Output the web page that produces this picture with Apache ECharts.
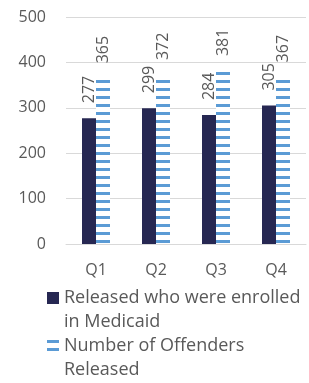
<!DOCTYPE html>
<html lang="en">
<head>
    <meta charset="UTF-8">
    <title>Medicaid enrollment</title>
    <style>
        html, body { margin: 0; padding: 0; background: #fff; }
    </style>
</head>
<body>
<div id="main" style="width: 309px;height:383px;"></div>
<script src="https://cdn.jsdelivr.net/npm/echarts@6/dist/echarts.min.js"></script>
<script>
    var quarters = ['Q1', 'Q2', 'Q3', 'Q4'];
    var enrolled = [277, 299, 284, 305];
    var released = [365, 372, 381, 367];
    var seriesNames = ['Released who were enrolled in Medicaid', 'Number of Offenders Released'];
    var legendLines = {
        'Released who were enrolled in Medicaid': ['Released who were enrolled', 'in Medicaid'],
        'Number of Offenders Released': ['Number of Offenders', 'Released']
    };

    // horizontal stripe fill for the second series
    var stripe = document.createElement('canvas');
    stripe.width = 8;
    stripe.height = 8;
    var ctx = stripe.getContext('2d');
    ctx.fillStyle = '#ffffff';
    ctx.fillRect(0, 0, 8, 8);
    ctx.fillStyle = '#5b9bd5';
    ctx.fillRect(0, 0, 8, 3);

    var textColor = '#595959';
    var font = 'Open Sans';

    // one legend per series; leading empty line puts the icon next to the first text line
    function makeLegend(name, top) {
        return {
            orient: 'vertical',
            left: 47,
            top: top,
            padding: 0,
            itemWidth: 12,
            itemHeight: 12,
            icon: 'rect',
            data: [name],
            formatter: function (n) { return '\n' + legendLines[n].join('\n'); },
            textStyle: { color: textColor, fontSize: 18, fontFamily: font, lineHeight: 24 }
        };
    }

    var myChart = echarts.init(document.getElementById('main'));
    var option = {
        animation: false,
        grid: { left: 66, right: 3, top: 17, bottom: 139 },
        xAxis: {
            type: 'category',
            data: quarters,
            axisTick: { show: false },
            axisLine: { lineStyle: { color: '#d9d9d9' } },
            axisLabel: { color: textColor, fontSize: 16, fontFamily: font, margin: 18 }
        },
        yAxis: {
            type: 'value',
            min: 0,
            max: 500,
            interval: 100,
            axisLabel: { color: textColor, fontSize: 16, fontFamily: font, margin: 20 },
            splitLine: { lineStyle: { color: '#d9d9d9' } }
        },
        legend: [makeLegend(seriesNames[0], 262), makeLegend(seriesNames[1], 310)],
        series: [
            {
                name: seriesNames[0],
                type: 'bar',
                data: enrolled,
                barWidth: 14,
                barGap: '0%',
                itemStyle: { color: '#262752' },
                label: {
                    show: true, position: 'top', rotate: 90, distance: 15,
                    align: 'left', verticalAlign: 'middle',
                    color: textColor, fontSize: 16, fontFamily: font
                }
            },
            {
                name: seriesNames[1],
                type: 'bar',
                data: released,
                barWidth: 14,
                itemStyle: { color: { image: stripe, repeat: 'repeat' } },
                label: {
                    show: true, position: 'top', rotate: 90, distance: 15,
                    align: 'left', verticalAlign: 'middle',
                    color: textColor, fontSize: 16, fontFamily: font
                }
            }
        ]
    };
    myChart.setOption(option);
</script>
</body>
</html>
